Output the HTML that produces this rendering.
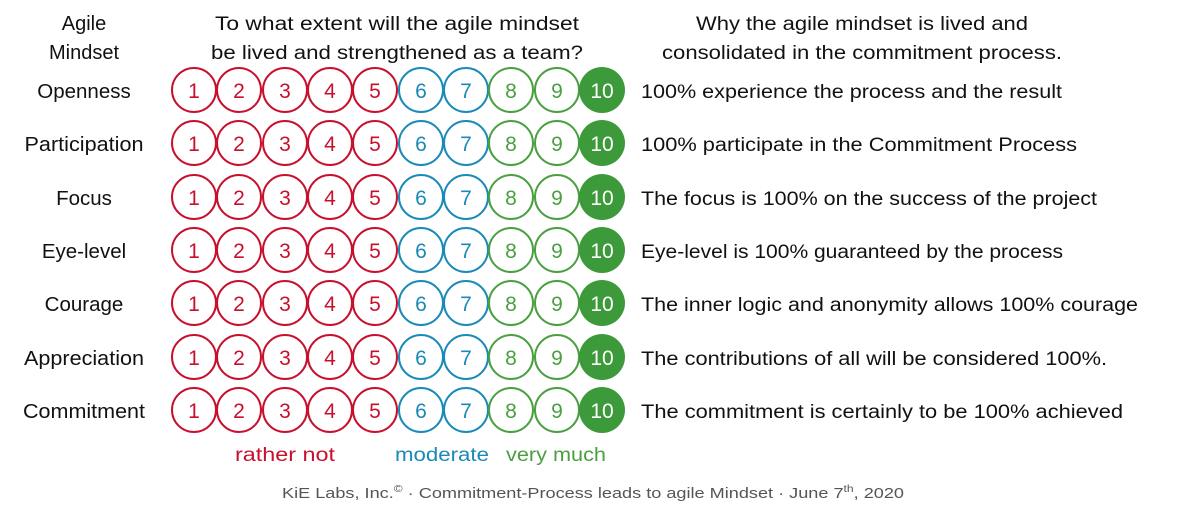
<!DOCTYPE html>
<html><head><meta charset="utf-8"><style>body{margin:0;background:#fff}svg{display:block}text{font-family:"Liberation Sans",sans-serif}.r circle{fill:none;stroke:#c8102e;stroke-width:2}.r text{fill:#c8102e}.b circle{fill:none;stroke:#1a8ab8;stroke-width:2}.b text{fill:#1a8ab8}.g circle{fill:none;stroke:#4aa040;stroke-width:2}.g text{fill:#4aa040}.f circle{fill:#3d9a3a}.f text{fill:#fff}.n text{text-anchor:middle;font-size:21px}</style></head><body>
<svg width="1190" height="516" viewBox="0 0 1190 516" xmlns="http://www.w3.org/2000/svg">
<g font-size="19" fill="#111" text-anchor="middle">
<text x="84" y="30" font-size="20">Agile</text>
<text x="84" y="59" font-size="20">Mindset</text>
<text x="397" y="30" textLength="364" lengthAdjust="spacingAndGlyphs">To what extent will the agile mindset</text>
<text x="397" y="59" textLength="372" lengthAdjust="spacingAndGlyphs">be lived and strengthened as a team?</text>
<text x="862" y="30" textLength="332" lengthAdjust="spacingAndGlyphs">Why the agile mindset is lived and</text>
<text x="862" y="59" textLength="400" lengthAdjust="spacingAndGlyphs">consolidated in the commitment process.</text>
</g>
<g font-size="20.5" fill="#111" text-anchor="middle">
<text x="84" y="98">Openness</text>
<text x="84" y="151" textLength="119" lengthAdjust="spacingAndGlyphs">Participation</text>
<text x="84" y="205">Focus</text>
<text x="84" y="258">Eye-level</text>
<text x="84" y="311">Courage</text>
<text x="84" y="365" textLength="120" lengthAdjust="spacingAndGlyphs">Appreciation</text>
<text x="84" y="418" textLength="122" lengthAdjust="spacingAndGlyphs">Commitment</text>
</g>
<g font-size="19" fill="#111">
<text x="641" y="98" textLength="421" lengthAdjust="spacingAndGlyphs">100% experience the process and the result</text>
<text x="641" y="151" textLength="436" lengthAdjust="spacingAndGlyphs">100% participate in the Commitment Process</text>
<text x="641" y="205" textLength="456" lengthAdjust="spacingAndGlyphs">The focus is 100% on the success of the project</text>
<text x="641" y="258" textLength="422" lengthAdjust="spacingAndGlyphs">Eye-level is 100% guaranteed by the process</text>
<text x="641" y="311" textLength="497" lengthAdjust="spacingAndGlyphs">The inner logic and anonymity allows 100% courage</text>
<text x="641" y="365" textLength="466" lengthAdjust="spacingAndGlyphs">The contributions of all will be considered 100%.</text>
<text x="641" y="418" textLength="482" lengthAdjust="spacingAndGlyphs">The commitment is certainly to be 100% achieved</text>
</g>
<g class="n">
<g class="r">
<circle cx="194" cy="90" r="22"/><circle cx="239" cy="90" r="22"/><circle cx="285" cy="90" r="22"/><circle cx="330" cy="90" r="22"/><circle cx="375" cy="90" r="22"/>
<circle cx="194" cy="143" r="22"/><circle cx="239" cy="143" r="22"/><circle cx="285" cy="143" r="22"/><circle cx="330" cy="143" r="22"/><circle cx="375" cy="143" r="22"/>
<circle cx="194" cy="197" r="22"/><circle cx="239" cy="197" r="22"/><circle cx="285" cy="197" r="22"/><circle cx="330" cy="197" r="22"/><circle cx="375" cy="197" r="22"/>
<circle cx="194" cy="250" r="22"/><circle cx="239" cy="250" r="22"/><circle cx="285" cy="250" r="22"/><circle cx="330" cy="250" r="22"/><circle cx="375" cy="250" r="22"/>
<circle cx="194" cy="303" r="22"/><circle cx="239" cy="303" r="22"/><circle cx="285" cy="303" r="22"/><circle cx="330" cy="303" r="22"/><circle cx="375" cy="303" r="22"/>
<circle cx="194" cy="357" r="22"/><circle cx="239" cy="357" r="22"/><circle cx="285" cy="357" r="22"/><circle cx="330" cy="357" r="22"/><circle cx="375" cy="357" r="22"/>
<circle cx="194" cy="410" r="22"/><circle cx="239" cy="410" r="22"/><circle cx="285" cy="410" r="22"/><circle cx="330" cy="410" r="22"/><circle cx="375" cy="410" r="22"/>
<text x="194" y="98">1</text><text x="239" y="98">2</text><text x="285" y="98">3</text><text x="330" y="98">4</text><text x="375" y="98">5</text>
<text x="194" y="151">1</text><text x="239" y="151">2</text><text x="285" y="151">3</text><text x="330" y="151">4</text><text x="375" y="151">5</text>
<text x="194" y="205">1</text><text x="239" y="205">2</text><text x="285" y="205">3</text><text x="330" y="205">4</text><text x="375" y="205">5</text>
<text x="194" y="258">1</text><text x="239" y="258">2</text><text x="285" y="258">3</text><text x="330" y="258">4</text><text x="375" y="258">5</text>
<text x="194" y="311">1</text><text x="239" y="311">2</text><text x="285" y="311">3</text><text x="330" y="311">4</text><text x="375" y="311">5</text>
<text x="194" y="365">1</text><text x="239" y="365">2</text><text x="285" y="365">3</text><text x="330" y="365">4</text><text x="375" y="365">5</text>
<text x="194" y="418">1</text><text x="239" y="418">2</text><text x="285" y="418">3</text><text x="330" y="418">4</text><text x="375" y="418">5</text>
</g>
<g class="b">
<circle cx="421" cy="90" r="22"/><circle cx="466" cy="90" r="22"/>
<circle cx="421" cy="143" r="22"/><circle cx="466" cy="143" r="22"/>
<circle cx="421" cy="197" r="22"/><circle cx="466" cy="197" r="22"/>
<circle cx="421" cy="250" r="22"/><circle cx="466" cy="250" r="22"/>
<circle cx="421" cy="303" r="22"/><circle cx="466" cy="303" r="22"/>
<circle cx="421" cy="357" r="22"/><circle cx="466" cy="357" r="22"/>
<circle cx="421" cy="410" r="22"/><circle cx="466" cy="410" r="22"/>
<text x="421" y="98">6</text><text x="466" y="98">7</text>
<text x="421" y="151">6</text><text x="466" y="151">7</text>
<text x="421" y="205">6</text><text x="466" y="205">7</text>
<text x="421" y="258">6</text><text x="466" y="258">7</text>
<text x="421" y="311">6</text><text x="466" y="311">7</text>
<text x="421" y="365">6</text><text x="466" y="365">7</text>
<text x="421" y="418">6</text><text x="466" y="418">7</text>
</g>
<g class="g">
<circle cx="511" cy="90" r="22"/><circle cx="557" cy="90" r="22"/>
<circle cx="511" cy="143" r="22"/><circle cx="557" cy="143" r="22"/>
<circle cx="511" cy="197" r="22"/><circle cx="557" cy="197" r="22"/>
<circle cx="511" cy="250" r="22"/><circle cx="557" cy="250" r="22"/>
<circle cx="511" cy="303" r="22"/><circle cx="557" cy="303" r="22"/>
<circle cx="511" cy="357" r="22"/><circle cx="557" cy="357" r="22"/>
<circle cx="511" cy="410" r="22"/><circle cx="557" cy="410" r="22"/>
<text x="511" y="98">8</text><text x="557" y="98">9</text>
<text x="511" y="151">8</text><text x="557" y="151">9</text>
<text x="511" y="205">8</text><text x="557" y="205">9</text>
<text x="511" y="258">8</text><text x="557" y="258">9</text>
<text x="511" y="311">8</text><text x="557" y="311">9</text>
<text x="511" y="365">8</text><text x="557" y="365">9</text>
<text x="511" y="418">8</text><text x="557" y="418">9</text>
</g>
<g class="f">
<circle cx="602" cy="90" r="23"/><circle cx="602" cy="143" r="23"/><circle cx="602" cy="197" r="23"/><circle cx="602" cy="250" r="23"/><circle cx="602" cy="303" r="23"/><circle cx="602" cy="357" r="23"/><circle cx="602" cy="410" r="23"/>
<text x="602" y="98">10</text><text x="602" y="151">10</text><text x="602" y="205">10</text><text x="602" y="258">10</text><text x="602" y="311">10</text><text x="602" y="365">10</text><text x="602" y="418">10</text>
</g>
</g>
<g font-size="19" text-anchor="middle">
<text x="285" y="461" fill="#c8102e" textLength="100" lengthAdjust="spacingAndGlyphs">rather not</text>
<text x="442" y="461" fill="#1a8ab8" textLength="94" lengthAdjust="spacingAndGlyphs">moderate</text>
<text x="556" y="461" fill="#4aa040" textLength="100" lengthAdjust="spacingAndGlyphs">very much</text>
</g>
<text x="593" y="498" font-size="15" fill="#555" text-anchor="middle" textLength="622" lengthAdjust="spacingAndGlyphs">KiE Labs, Inc.<tspan font-size="10" dy="-6">©</tspan><tspan dy="6"> · Commitment-Process leads to agile Mindset · June 7</tspan><tspan font-size="10" dy="-6">th</tspan><tspan dy="6">, 2020</tspan></text>
</svg>
</body></html>
